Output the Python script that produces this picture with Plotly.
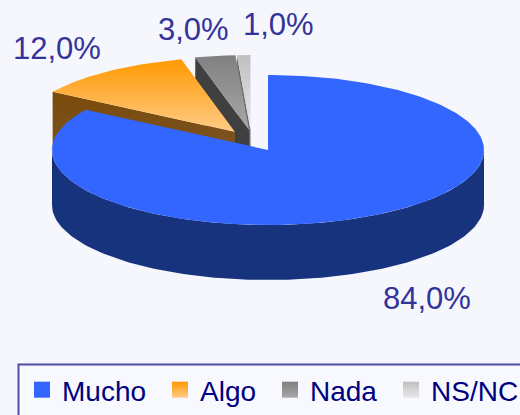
import numpy as np
import plotly.graph_objects as go

categories = ["Mucho", "Algo", "Nada", "NS/NC"]
values = [84.0, 12.0, 3.0, 1.0]

W, H = 520, 415
BG = "#F5F7FD"
TEXT = "#333399"
LEGEND_TEXT = "#000080"
RX, RY, DEPTH = 216, 75, 55
apex = {"Mucho": (268, 150), "Algo": (235, 132), "Nada": (249, 130), "NS/NC": (250.5, 130)}
top_fill = {"Mucho": ("#3366FF", "#3366FF"), "Algo": ("#FF9900", "#FFCC88"),
            "Nada": ("#808080", "#A8A8A8"), "NS/NC": ("#C0C0C0", "#E8E8E8")}
cut_fill = {"Algo": ("#7A4A08", "#7A5A35"), "Nada": ("#404040", "#404040"), "NS/NC": ("#6A6A6A", "#6A6A6A")}
WALL = "#17337D"
label_pos = {"Mucho": (427, 298), "Algo": (57, 48), "Nada": (193, 29), "NS/NC": (278, 24)}
legend_x = {"Mucho": 22, "Algo": 160, "Nada": 270, "NS/NC": 391}
LEGEND_TOP = 365


def rim(cx, cy, a):
    return cx + RX * np.sin(a), cy - RY * np.cos(a)


def fill_trace(xs, ys, colors):
    y0, y1 = float(np.min(ys)), float(np.max(ys))
    kw = {}
    if colors[0] == colors[1]:
        kw["fillcolor"] = colors[0]
    else:
        kw["fillgradient"] = dict(type="vertical", start=y0, stop=y1,
                                  colorscale=[[0, colors[0]], [1, colors[1]]])
    return go.Scatter(x=list(xs), y=list(ys), mode="lines", fill="toself", line=dict(width=0),
                      hoverinfo="skip", showlegend=False, **kw)


fig = go.Figure()

# angular extent of every slice, clockwise from 12 o'clock, from the values
total = sum(values)
edges = np.concatenate([[0], np.cumsum(values)]) / total * 2 * np.pi
span = {c: (edges[i], edges[i + 1]) for i, c in enumerate(categories)}

# far slices first, so nearer ones cover them
for c in ["NS/NC", "Nada", "Algo"]:
    a0, a1 = span[c]
    cx, cy = apex[c]
    # the cut face that looks towards the viewer, at the slice's starting angle
    px, py = rim(cx, cy, a0)
    fig.add_trace(fill_trace([px, cx, cx, px, px],
                             [py, cy, cy + DEPTH, py + DEPTH, py], cut_fill[c]))
    t = np.linspace(a0, a1, 40)
    rx, ry = rim(cx, cy, t)
    fig.add_trace(fill_trace(np.r_[cx, rx, cx], np.r_[cy, ry, cy], top_fill[c]))

# the big slice: outer wall over the front half, then its top
cx, cy = apex["Mucho"]
t = np.linspace(np.pi / 2, 3 * np.pi / 2, 120)
wx, wy = rim(cx, cy, t)
fig.add_trace(fill_trace(np.r_[wx, wx[::-1], wx[0]], np.r_[wy, wy[::-1] + DEPTH, wy[0]], (WALL, WALL)))
a0, a1 = span["Mucho"]
t = np.linspace(a0, a1, 240)
rx, ry = rim(cx, cy, t)
fig.add_trace(fill_trace(np.r_[cx, rx, cx], np.r_[cy, ry, cy], top_fill["Mucho"]))

# legend entries, each in its own legend so the spacing can follow the reference
legends = {}
for i, c in enumerate(categories):
    c0, c1 = top_fill[c]
    marker = dict(symbol="square", size=18, color=c0, line=dict(width=0))
    if c0 != c1:
        marker["gradient"] = dict(type="vertical", color=c1)
    key = "legend" if i == 0 else f"legend{i + 1}"
    fig.add_trace(go.Scatter(x=[None], y=[None], mode="markers", name=c, marker=marker,
                             hoverinfo="skip", legend=key))
    legends[key] = dict(orientation="h",
                        x=legend_x[c] / W, y=(H - LEGEND_TOP) / H, xanchor="left", yanchor="top",
                        bgcolor="rgba(0,0,0,0)", borderwidth=0,
                        font=dict(family="Liberation Sans, Arial, sans-serif", size=28, color=LEGEND_TEXT))
legends["legend4"].update(entrywidth=82, entrywidthmode="pixels")

for c, v in zip(categories, values):
    x, y = label_pos[c]
    fig.add_annotation(x=x, y=y, xref="x", yref="y", showarrow=False,
                       text=f"{v:.1f}%".replace(".", ","),
                       font=dict(family="Liberation Sans, Arial, sans-serif", size=31, color=TEXT))

fig.update_layout(
    width=W, height=H, autosize=False,
    margin=dict(l=0, r=0, t=0, b=0),
    paper_bgcolor=BG, plot_bgcolor=BG,
    xaxis=dict(range=[0, W], visible=False, fixedrange=True),
    yaxis=dict(range=[H, 0], visible=False, fixedrange=True),
    shapes=[dict(type="rect", xref="x", yref="y", x0=18.5, y0=364.5, x1=560, y1=460,
                 line=dict(color="#4D4DA6", width=2), fillcolor="#F8F9FE", layer="below")],
    **legends,
)

fig.write_html("out.html", config=dict(displayModeBar=False),
               post_script="document.body.style.margin='0';document.body.style.overflow='hidden';")
